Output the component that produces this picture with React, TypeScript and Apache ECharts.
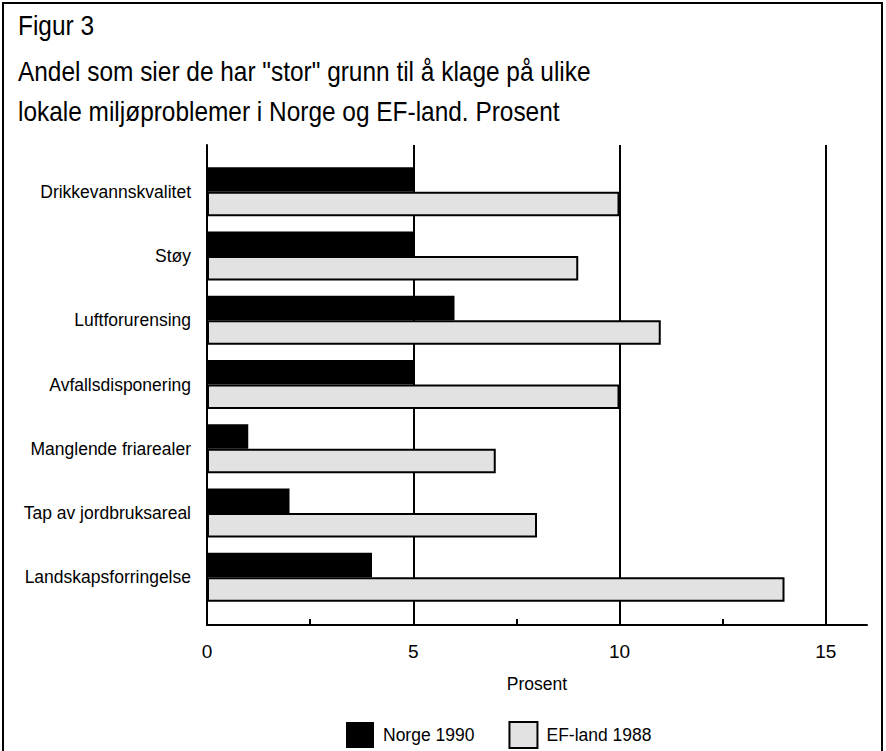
import React, { useEffect, useRef } from "react";
import * as echarts from "echarts";

const categories = [
  "Drikkevannskvalitet",
  "Støy",
  "Luftforurensing",
  "Avfallsdisponering",
  "Manglende friarealer",
  "Tap av jordbruksareal",
  "Landskapsforringelse",
];
const norge1990 = [5, 5, 6, 5, 1, 2, 4];
const efLand1988 = [10, 9, 11, 10, 7, 8, 14];
const xTickLabels = [0, 5, 10, 15];
const xMinorTicks = [2.5, 7.5, 12.5];
const seriesNames = ["Norge 1990", "EF-land 1988"];
const titleLines = [
  "Figur 3",
  'Andel som sier de har "stor" grunn til å klage på ulike',
  "lokale miljøproblemer i Norge og EF-land. Prosent",
];
const axisName = "Prosent";

const FONT = "'Liberation Sans', Arial, Helvetica, sans-serif";

export default function App() {
  const ref = useRef<HTMLDivElement>(null);
  useEffect(() => {
    document.body.style.margin = "0";
    if (!ref.current) return;
    const chart = echarts.init(ref.current, null, { renderer: "svg" });
    const black = "#000";
    const lineW = 2;
    const textBase = { color: black, fontFamily: FONT, fontSize: 17.5 };
    const titleText = (text: string, y: number) => ({
      type: "text",
      x: 18,
      y,
      scaleX: 0.905,
      silent: true,
      style: { text, font: `27px ${FONT}`, fill: black, align: "left", verticalAlign: "top" },
    });
    chart.setOption({
      animation: false,
      backgroundColor: "#fff",
      grid: [
        { left: 207, right: 19, top: 159.5, height: 450, outerBoundsMode: "none" },
        { left: 207, right: 19, top: 145, height: 480, outerBoundsMode: "none" },
      ],
      xAxis: [
        {
          gridIndex: 0,
          type: "value",
          min: 0,
          max: 16,
          offset: 15.5,
          axisLine: { show: false },
          axisTick: {
            show: true,
            inside: true,
            length: 6,
            customValues: xMinorTicks,
            lineStyle: { color: black, width: lineW },
          },
          axisLabel: { show: false },
          splitLine: { show: false },
        },
        {
          gridIndex: 1,
          type: "value",
          min: 0,
          max: 16,
          interval: 5,
          axisLine: { show: true, lineStyle: { color: black, width: lineW } },
          axisTick: { show: false },
          axisLabel: { ...textBase, fontSize: 19, customValues: xTickLabels, margin: 17 },
          splitLine: {
            show: true,
            showMinLine: false,
            showMaxLine: false,
            lineStyle: { color: black, width: lineW },
          },
          name: axisName,
          nameLocation: "middle",
          nameGap: 50,
          nameTextStyle: { ...textBase },
        },
      ],
      yAxis: [
        {
          gridIndex: 0,
          type: "category",
          data: categories,
          inverse: true,
          axisLine: { show: false },
          axisTick: { show: false },
          axisLabel: { ...textBase, margin: 16 },
          splitLine: { show: false },
        },
        {
          gridIndex: 1,
          type: "value",
          min: 0,
          max: 1,
          axisLine: { show: true, lineStyle: { color: black, width: lineW } },
          axisTick: { show: false },
          axisLabel: { show: false },
          splitLine: { show: false },
        },
      ],
      legend: {
        data: seriesNames,
        left: 341,
        top: 716,
        icon: "rect",
        itemWidth: 28,
        itemHeight: 26,
        itemGap: 34,
        textStyle: { ...textBase, padding: [0, 0, 0, 4] },
      },
      series: [
        {
          type: "bar",
          name: seriesNames[0],
          xAxisIndex: 0,
          yAxisIndex: 0,
          data: norge1990,
          barWidth: 24.5,
          barGap: "0%",
          z: 3,
          itemStyle: { color: black },
        },
        {
          type: "bar",
          name: seriesNames[1],
          xAxisIndex: 0,
          yAxisIndex: 0,
          data: efLand1988,
          barWidth: 24.5,
          barGap: "0%",
          z: 3,
          itemStyle: { color: "#e2e2e2", borderColor: black, borderWidth: lineW },
        },
      ],
      graphic: [
        {
          type: "rect",
          silent: true,
          shape: { x: 3, y: 3, width: 879, height: 800 },
          style: { fill: "none", stroke: black, lineWidth: 2 },
        },
        titleText(titleLines[0], 12),
        titleText(titleLines[1], 58),
        titleText(titleLines[2], 98),
      ],
    });
    return () => chart.dispose();
  }, []);
  return <div ref={ref} style={{ width: 886, height: 751 }} />;
}
